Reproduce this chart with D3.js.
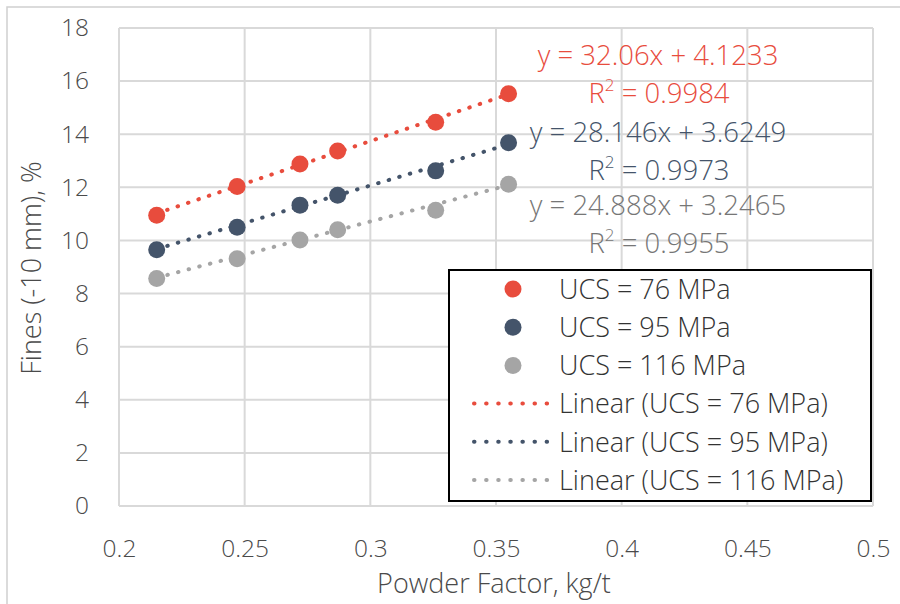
<!DOCTYPE html>
<html><head><meta charset="utf-8">
<script src="https://cdn.jsdelivr.net/npm/d3@7"></script>
<style>
html,body{margin:0;padding:0;background:#fff;}
text{font-family:"Open Sans","Noto Sans",sans-serif;}
</style></head>
<body>
<svg id="chart" width="900" height="604"></svg>
<script>
// ---- data ----
const powderFactor = [0.215, 0.247, 0.272, 0.287, 0.326, 0.355];
const ucs76  = [10.95, 12.03, 12.88, 13.37, 14.45, 15.52];
const ucs95  = [9.65, 10.50, 11.33, 11.70, 12.62, 13.68];
const ucs116 = [8.57, 9.31, 10.02, 10.40, 11.14, 12.12];
const seriesNames = ["UCS = 76 MPa", "UCS = 95 MPa", "UCS = 116 MPa"];
const slopes = [32.06, 28.146, 24.888];
const intercepts = [4.1233, 3.6249, 3.2465];
const rSquared = ["0.9984", "0.9973", "0.9955"];
const xTicks = [0.2, 0.25, 0.3, 0.35, 0.4, 0.45, 0.5];
const yTicks = [0, 2, 4, 6, 8, 10, 12, 14, 16, 18];

const colors = ["#E84C3D", "#44546A", "#A5A5A5"];
const eqColors = ["#E84C3D", "#44546A", "#767676"];
const seriesValues = [ucs76, ucs95, ucs116];

const svg = d3.select("#chart");
const L = 119, R = 873, T = 28, B = 506;
const x = d3.scaleLinear().domain([0.2, 0.5]).range([L, R]);
const y = d3.scaleLinear().domain([0, 18]).range([B, T]);

// outer chart frame
svg.append("rect").attr("x", 7).attr("y", 7).attr("width", 1000).attr("height", 1000)
  .attr("fill", "none").attr("stroke", "#d0d0d0").attr("stroke-width", 1.5);

// gridlines
const grid = svg.append("g");
grid.selectAll("line.v").data(xTicks).join("line")
  .attr("x1", d => x(d)).attr("x2", d => x(d)).attr("y1", T).attr("y2", B)
  .attr("stroke", "#d9d9d9").attr("stroke-width", 2);
grid.selectAll("line.h").data(yTicks).join("line")
  .attr("y1", d => y(d)).attr("y2", d => y(d)).attr("x1", L).attr("x2", R)
  .attr("stroke", "#d9d9d9").attr("stroke-width", 2);

// axes (labels only)
const xAxis = svg.append("g").attr("transform", `translate(0,${B})`)
  .call(d3.axisBottom(x).tickValues(xTicks).tickSize(0).tickPadding(34).tickFormat(d => String(d)));
const yAxis = svg.append("g").attr("transform", `translate(${L},0)`)
  .call(d3.axisLeft(y).tickValues(yTicks).tickSize(0).tickPadding(30).tickFormat(d => String(d)));
[xAxis, yAxis].forEach(a => {
  a.select(".domain").remove();
  a.selectAll("text").attr("font-size", 24.5).attr("fill", "#4a4a4a")
    .attr("font-family", "'Open Sans','Noto Sans',sans-serif").attr("font-weight", 300);
});

// axis titles
svg.append("text").attr("x", 494).attr("y", 593).attr("text-anchor", "middle")
  .attr("font-size", 27).attr("font-weight", 300).attr("fill", "#4a4a4a").text("Powder Factor, kg/t");
svg.append("text").attr("transform", "translate(41,268) rotate(-90)").attr("text-anchor", "middle")
  .attr("font-size", 27).attr("font-weight", 300).attr("fill", "#4a4a4a").text("Fines (-10 mm), %");

// trendlines
const xMin = d3.min(powderFactor), xMax = d3.max(powderFactor);
slopes.forEach((m, i) => {
  svg.append("line")
    .attr("x1", x(xMin)).attr("y1", y(m * xMin + intercepts[i]))
    .attr("x2", x(xMax)).attr("y2", y(m * xMax + intercepts[i]))
    .attr("stroke", colors[i]).attr("stroke-width", 4).attr("stroke-linecap", "round")
    .attr("stroke-dasharray", "0.5 10.5");
});

// points
seriesValues.forEach((vals, i) => {
  svg.append("g").selectAll("circle").data(vals).join("circle")
    .attr("cx", (d, j) => x(powderFactor[j])).attr("cy", d => y(d))
    .attr("r", 8.5).attr("fill", colors[i]);
});

// equation labels
const eqBase = [65, 142, 215];
slopes.forEach((m, i) => {
  svg.append("text").attr("x", 658).attr("y", eqBase[i]).attr("text-anchor", "middle")
    .attr("font-size", 27.5).attr("font-weight", 300).attr("fill", eqColors[i])
    .text(`y = ${m}x + ${intercepts[i]}`);
  const t = svg.append("text").attr("x", 659).attr("y", eqBase[i] + 38).attr("text-anchor", "middle")
    .attr("font-size", 27.5).attr("font-weight", 300).attr("fill", eqColors[i]);
  t.append("tspan").text("R");
  t.append("tspan").attr("font-size", 17).attr("dy", -12).text("2");
  t.append("tspan").attr("dy", 12).text(` = ${rSquared[i]}`);
});

// legend
const lg = svg.append("g");
lg.append("rect").attr("x", 449).attr("y", 270).attr("width", 422).attr("height", 231)
  .attr("fill", "#fff").attr("stroke", "#000").attr("stroke-width", 2);
const rowY = i => 289 + i * 38.2;
seriesNames.forEach((name, i) => {
  lg.append("circle").attr("cx", 513).attr("cy", rowY(i)).attr("r", 8.5).attr("fill", colors[i]);
  lg.append("text").attr("x", 559).attr("y", rowY(i)).attr("dy", "0.36em")
    .attr("font-size", 27).attr("font-weight", 300).attr("fill", "#333").text(name);
});
seriesNames.forEach((name, i) => {
  const yy = rowY(i + 3);
  lg.append("line").attr("x1", 474).attr("x2", 548).attr("y1", yy).attr("y2", yy)
    .attr("stroke", colors[i]).attr("stroke-width", 4).attr("stroke-linecap", "round")
    .attr("stroke-dasharray", "0.5 11.6");
  lg.append("text").attr("x", 559).attr("y", yy).attr("dy", "0.36em")
    .attr("font-size", 27).attr("font-weight", 300).attr("fill", "#333").text(`Linear (${name})`);
});
</script>
</body></html>
